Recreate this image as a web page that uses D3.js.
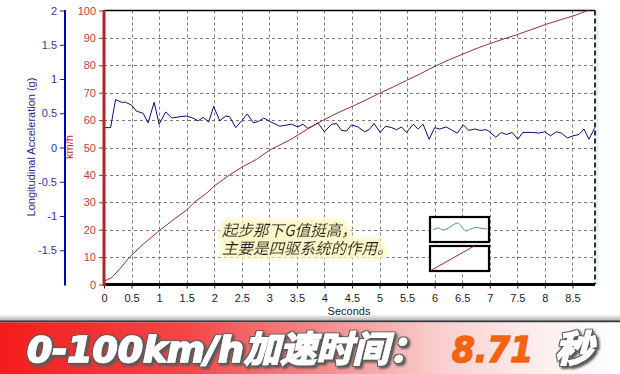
<!DOCTYPE html>
<html>
<head>
<meta charset="utf-8">
<script src="https://cdn.jsdelivr.net/npm/d3@7"></script>
<style>
  body { margin: 0; background: #fff; }
  svg { display: block; }
  .tick text { font-family: "Liberation Sans", Arial, sans-serif; font-size: 11px; }
</style>
</head>
<body>
<div id="canvas"></div>
<script>
// ---- data ----
const speedTime = [0, 0.14, 0.3, 0.47, 0.71, 0.8, 1.02, 1.25, 1.5, 1.65, 1.86, 2.01, 2.28, 2.5, 2.77, 3.01, 3.37, 3.7, 3.98, 4.28,
  4.46, 4.75, 5.0, 5.25, 5.49, 5.75, 6.0, 6.25, 6.5, 6.82, 7.1, 7.51, 7.75, 8.03, 8.3, 8.57, 8.78];
const speedKmh = [1.2, 2.5, 6, 10.1, 14.7, 16.2, 19.9, 23.5, 27.2, 30.2, 33.3, 36.1, 40, 42.8, 45.7, 49.1, 52.7, 56.8, 60, 63,
  64.6, 67.3, 69.8, 72.1, 74.5, 77.0, 79.6, 81.9, 84.0, 86.6, 88.6, 91.3, 93.0, 95.0, 96.7, 98.4, 100];

const accelTime = [0, 0.12, 0.21, 0.32, 0.39, 0.5, 0.59, 0.71, 0.8, 0.91,
  1.0, 1.12, 1.23, 1.38, 1.5, 1.61, 1.71, 1.8, 1.9, 1.99,
  2.1, 2.21, 2.28, 2.39, 2.5, 2.6, 2.71, 2.8, 2.9, 3.01,
  3.19, 3.4, 3.52, 3.61, 3.7, 3.78, 3.88, 4.0, 4.13, 4.22,
  4.31, 4.4, 4.49, 4.61, 4.73, 4.81, 4.9, 5.01, 5.11, 5.22,
  5.31, 5.4, 5.49, 5.61, 5.7, 5.79, 5.9, 6.0, 6.09, 6.21,
  6.3, 6.41, 6.52, 6.62, 6.73, 6.82, 6.94, 7.01, 7.11, 7.21,
  7.3, 7.41, 7.51, 7.6, 7.78, 7.89, 8.0, 8.1, 8.21, 8.3,
  8.41, 8.51, 8.62, 8.71, 8.8, 8.9];
const accelG = [0.29, 0.29, 0.70, 0.66, 0.66, 0.62, 0.53, 0.50, 0.36, 0.66,
  0.34, 0.52, 0.43, 0.45, 0.46, 0.43, 0.39, 0.44, 0.37, 0.60,
  0.39, 0.46, 0.45, 0.29, 0.39, 0.49, 0.36, 0.38, 0.43, 0.38,
  0.31, 0.34, 0.30, 0.34, 0.28, 0.31, 0.36, 0.23, 0.34, 0.35,
  0.25, 0.24, 0.33, 0.30, 0.23, 0.26, 0.35, 0.22, 0.31, 0.29,
  0.26, 0.30, 0.22, 0.34, 0.27, 0.34, 0.12, 0.29, 0.27, 0.30,
  0.26, 0.21, 0.33, 0.25, 0.27, 0.25, 0.26, 0.22, 0.15, 0.22,
  0.19, 0.22, 0.12, 0.22, 0.22, 0.21, 0.23, 0.17, 0.23, 0.21,
  0.14, 0.17, 0.19, 0.27, 0.12, 0.28];

const secondTicks = [0, 0.5, 1, 1.5, 2, 2.5, 3, 3.5, 4, 4.5, 5, 5.5, 6, 6.5, 7, 7.5, 8, 8.5];
const speedTicks = [0, 10, 20, 30, 40, 50, 60, 70, 80, 90, 100];
const accelTicks = [-1.5, -1, -0.5, 0, 0.5, 1, 1.5, 2];

const noteLines = ["起步那下G值挺高，", "主要是四驱系统的作用。"];
const bannerLabel = "0-100km/h加速时间：";
const bannerValue = "8.71";
const bannerUnit = "秒";

// small sample lines inside the two legend boxes (box-local 0..1)
const waveU = [0.05, 0.14, 0.22, 0.34, 0.42, 0.47, 0.54, 0.61, 0.69, 0.8, 0.88, 0.97];
const waveV = [0.48, 0.56, 0.48, 0.6, 0.72, 0.76, 0.6, 0.44, 0.52, 0.58, 0.54, 0.52];
const rampU = [0.03, 0.75];
const rampV = [0.04, 1.0];

// ---- layout ----
const W = 620, H = 374;
const plot = { left: 104, right: 595, top: 10.5, bottom: 284.5 };

const svg = d3.select("#canvas").append("svg")
  .attr("width", W).attr("height", H)
  .style("background-color", "#fff");

const defs = svg.append("defs");

// yellow glow behind the note
const glow = defs.append("filter").attr("id", "glow")
  .attr("x", "-10%").attr("y", "-40%").attr("width", "120%").attr("height", "180%");
glow.append("feMorphology").attr("in", "SourceAlpha").attr("operator", "dilate").attr("radius", 3.5).attr("result", "d");
glow.append("feGaussianBlur").attr("in", "d").attr("stdDeviation", 2).attr("result", "b");
glow.append("feFlood").attr("flood-color", "#fbf7c6");
glow.append("feComposite").attr("in2", "b").attr("operator", "in").attr("result", "g");
const gm = glow.append("feMerge");
gm.append("feMergeNode").attr("in", "g");
gm.append("feMergeNode").attr("in", "SourceGraphic");

// outline + drop shadow for banner text
const fx = defs.append("filter").attr("id", "bannerFx")
  .attr("x", "-5%").attr("y", "-25%").attr("width", "115%").attr("height", "160%");
fx.append("feMorphology").attr("in", "SourceAlpha").attr("operator", "dilate").attr("radius", 1).attr("result", "fat");
fx.append("feFlood").attr("flood-color", "#5a5a5a");
fx.append("feComposite").attr("in2", "fat").attr("operator", "in").attr("result", "outline");
fx.append("feGaussianBlur").attr("in", "outline").attr("stdDeviation", 1.1).attr("result", "blur");
fx.append("feOffset").attr("in", "blur").attr("dx", 2).attr("dy", 2).attr("result", "sh");
const fm = fx.append("feMerge");
fm.append("feMergeNode").attr("in", "sh");
fm.append("feMergeNode").attr("in", "outline");
fm.append("feMergeNode").attr("in", "SourceGraphic");

// banner gradients
const red = defs.append("linearGradient").attr("id", "redGrad")
  .attr("x1", "0%").attr("x2", "100%").attr("y1", "0%").attr("y2", "0%");
[["0%", "#f41c1c"], ["30%", "#f44646"], ["52%", "#f58a8a"], ["70%", "#f9cccc"], ["85%", "#fcebeb"], ["100%", "#ffffff"]]
  .forEach(([o, c]) => red.append("stop").attr("offset", o).attr("stop-color", c));
const grey = defs.append("linearGradient").attr("id", "greyGrad")
  .attr("x1", "0%").attr("x2", "0%").attr("y1", "0%").attr("y2", "100%");
grey.append("stop").attr("offset", "0%").attr("stop-color", "#f6f6f6");
grey.append("stop").attr("offset", "100%").attr("stop-color", "#a9a9a9");

// scales
const xScale = d3.scaleLinear().domain([0, 8.91]).range([plot.left, plot.right]);
const ySpeed = d3.scaleLinear().domain([0, 100]).range([plot.bottom, plot.top]);
const yAccel = d3.scaleLinear().domain([-2, 2]).range([plot.bottom, plot.top]);

// grid
const grid = svg.append("g")
  .attr("stroke", "#7a7a7a").attr("stroke-width", 1).attr("stroke-dasharray", "3,3");
grid.selectAll("line.v").data(secondTicks.filter(d => d > 0)).enter().append("line")
  .attr("class", "v")
  .attr("x1", d => Math.round(xScale(d)) + 0.5).attr("x2", d => Math.round(xScale(d)) + 0.5)
  .attr("y1", plot.top).attr("y2", plot.bottom);
grid.selectAll("line.h").data(speedTicks.filter(d => d > 0 && d < 100)).enter().append("line")
  .attr("class", "h")
  .attr("x1", plot.left).attr("x2", plot.right)
  .attr("y1", d => Math.round(ySpeed(d)) + 0.5).attr("y2", d => Math.round(ySpeed(d)) + 0.5);

// frame: top solid, right dashed
svg.append("line")
  .attr("x1", plot.left).attr("x2", plot.right).attr("y1", plot.top).attr("y2", plot.top)
  .attr("stroke", "#000").attr("stroke-width", 1.5);
svg.append("line")
  .attr("x1", plot.right + 2).attr("x2", plot.right + 2).attr("y1", plot.top).attr("y2", plot.bottom)
  .attr("stroke", "#c8f0ee").attr("stroke-width", 1.5);
svg.append("line")
  .attr("x1", plot.right).attr("x2", plot.right).attr("y1", plot.top).attr("y2", plot.bottom)
  .attr("stroke", "#000").attr("stroke-width", 1.6).attr("stroke-dasharray", "5,3");

// series
const accelData = accelTime.map((t, i) => ({ t, g: accelG[i] }));
const speedData = speedTime.map((t, i) => ({ t, v: speedKmh[i] }));

svg.append("path").datum(accelData)
  .attr("fill", "none").attr("stroke", "#0c0c78").attr("stroke-width", 1)
  .attr("d", d3.line().x(d => xScale(d.t)).y(d => yAccel(d.g)));

svg.append("path").datum(speedData)
  .attr("fill", "none").attr("stroke", "#a02a32").attr("stroke-width", 1)
  .attr("d", d3.line().x(d => xScale(d.t)).y(d => ySpeed(d.v)));

// x axis
const xAxisG = svg.append("g").attr("transform", `translate(0,${plot.bottom})`);
xAxisG.call(d3.axisBottom(xScale).tickValues(d3.range(0, 89).map(i => i / 10)).tickSize(3).tickFormat(""));
xAxisG.call(d3.axisBottom(xScale).tickValues(secondTicks).tickSize(4).tickPadding(6).tickFormat(d => String(d)));
xAxisG.selectAll(".domain").remove();
xAxisG.selectAll(".tick line").attr("stroke", "#222");
xAxisG.selectAll(".tick text").attr("fill", "#222");
svg.append("line")
  .attr("x1", plot.left).attr("x2", plot.right).attr("y1", plot.bottom).attr("y2", plot.bottom)
  .attr("stroke", "#000").attr("stroke-width", 3);

svg.append("text")
  .attr("x", 349).attr("y", 315).attr("text-anchor", "middle")
  .attr("font-family", "Liberation Sans, Arial, sans-serif").attr("font-size", 11).attr("fill", "#222")
  .text("Seconds");

// speed axis (red)
const speedAxisG = svg.append("g").attr("transform", `translate(${plot.left},0)`);
speedAxisG.call(d3.axisLeft(ySpeed).tickValues(d3.range(0, 101, 2)).tickSize(3).tickFormat(""));
speedAxisG.call(d3.axisLeft(ySpeed).tickValues(speedTicks).tickSize(5).tickPadding(3).tickFormat(d => String(d)));
speedAxisG.selectAll(".domain").remove();
speedAxisG.selectAll(".tick line").attr("stroke", "#b02828");
speedAxisG.selectAll(".tick text").attr("fill", "#c8383a");
svg.append("line")
  .attr("x1", plot.left).attr("x2", plot.left).attr("y1", plot.top - 0.5).attr("y2", plot.bottom + 1.5)
  .attr("stroke", "#b42626").attr("stroke-width", 3);

svg.append("text")
  .attr("transform", `translate(73,147) rotate(-90)`).attr("text-anchor", "middle")
  .attr("font-family", "Liberation Sans, Arial, sans-serif").attr("font-size", 11).attr("fill", "#c02a2a")
  .text("km/h");

// acceleration axis (blue)
const accelX = 65;
const accelAxisG = svg.append("g").attr("transform", `translate(${accelX},0)`);
accelAxisG.call(d3.axisLeft(yAccel).tickValues(d3.range(-20, 21).map(i => i / 10)).tickSize(2).tickFormat(""));
accelAxisG.call(d3.axisLeft(yAccel).tickValues(accelTicks).tickSize(5).tickPadding(3).tickFormat(d => String(d)));
accelAxisG.selectAll(".domain").remove();
accelAxisG.selectAll(".tick line").attr("stroke", "#1a1aa8");
accelAxisG.selectAll(".tick text").attr("fill", "#34349a");
svg.append("line")
  .attr("x1", accelX).attr("x2", accelX).attr("y1", plot.top - 0.5).attr("y2", plot.bottom + 1)
  .attr("stroke", "#0000c4").attr("stroke-width", 2);

svg.append("text")
  .attr("transform", `translate(35,147) rotate(-90)`).attr("text-anchor", "middle")
  .attr("font-family", "Liberation Sans, Arial, sans-serif").attr("font-size", 11).attr("fill", "#2a2a8a")
  .text("Longitudinal Acceleration (g)");

// note text: one text element, two lines
const note = svg.append("text")
  .attr("filter", "url(#glow)")
  .attr("font-family", "Noto Sans CJK SC, sans-serif").attr("font-size", 15.5)
  .attr("font-style", "italic").attr("fill", "#1e1e1e")
  .attr("stroke", "#1e1e1e").attr("stroke-width", 0.25);
note.selectAll("tspan").data(noteLines).enter().append("tspan")
  .attr("x", 222).attr("y", (d, i) => 236 + i * 18)
  .text(d => d);

// legend boxes
const boxes = [{ y: 217, kind: "wave" }, { y: 246, kind: "ramp" }];
boxes.forEach(b => {
  const bx = d3.scaleLinear().domain([0, 1]).range([430, 489]);
  const by = d3.scaleLinear().domain([0, 1]).range([b.y + 25, b.y]);
  svg.append("rect")
    .attr("x", 430).attr("y", b.y).attr("width", 59).attr("height", 25)
    .attr("fill", "#fff").attr("stroke", "#000").attr("stroke-width", 2.2);
  const u = b.kind === "wave" ? waveU : rampU;
  const v = b.kind === "wave" ? waveV : rampV;
  svg.append("path").datum(u.map((d, i) => [d, v[i]]))
    .attr("fill", "none")
    .attr("stroke", b.kind === "wave" ? "#4b8cae" : "#a02a40").attr("stroke-width", 1)
    .attr("d", d3.line().x(d => bx(d[0])).y(d => by(d[1])).curve(d3.curveMonotoneX));
});

// banner
svg.append("rect").attr("x", 0).attr("y", 315).attr("width", W).attr("height", 6).attr("fill", "url(#greyGrad)");
svg.append("rect").attr("x", 0).attr("y", 320.5).attr("width", W).attr("height", 2).attr("fill", "#3a3a3a");
svg.append("rect").attr("x", 0).attr("y", 322.5).attr("width", W).attr("height", H - 322.5).attr("fill", "url(#redGrad)");

const bannerFont = "DejaVu Sans, Noto Sans CJK SC, sans-serif";
const bannerParts = [
  { text: bannerLabel, x: 27, len: 398, fill: "#ffffff", size: 36 },
  { text: bannerValue, x: 452, len: 81, fill: "#f26412", size: 36 },
  { text: bannerUnit, x: 555, len: 38, fill: "#ffffff", size: 37 }
];
svg.append("g").selectAll("text").data(bannerParts).enter().append("text")
  .attr("x", d => d.x).attr("y", 361.5)
  .attr("font-family", bannerFont).attr("font-size", d => d.size)
  .attr("font-weight", "bold").attr("font-style", "italic")
  .attr("textLength", d => d.len).attr("lengthAdjust", "spacingAndGlyphs")
  .attr("fill", d => d.fill).attr("stroke", d => d.fill).attr("stroke-width", 1.6)
  .attr("filter", d => d.fill === "#ffffff" ? "url(#bannerFx)" : null)
  .text(d => d.text);
</script>
</body>
</html>
